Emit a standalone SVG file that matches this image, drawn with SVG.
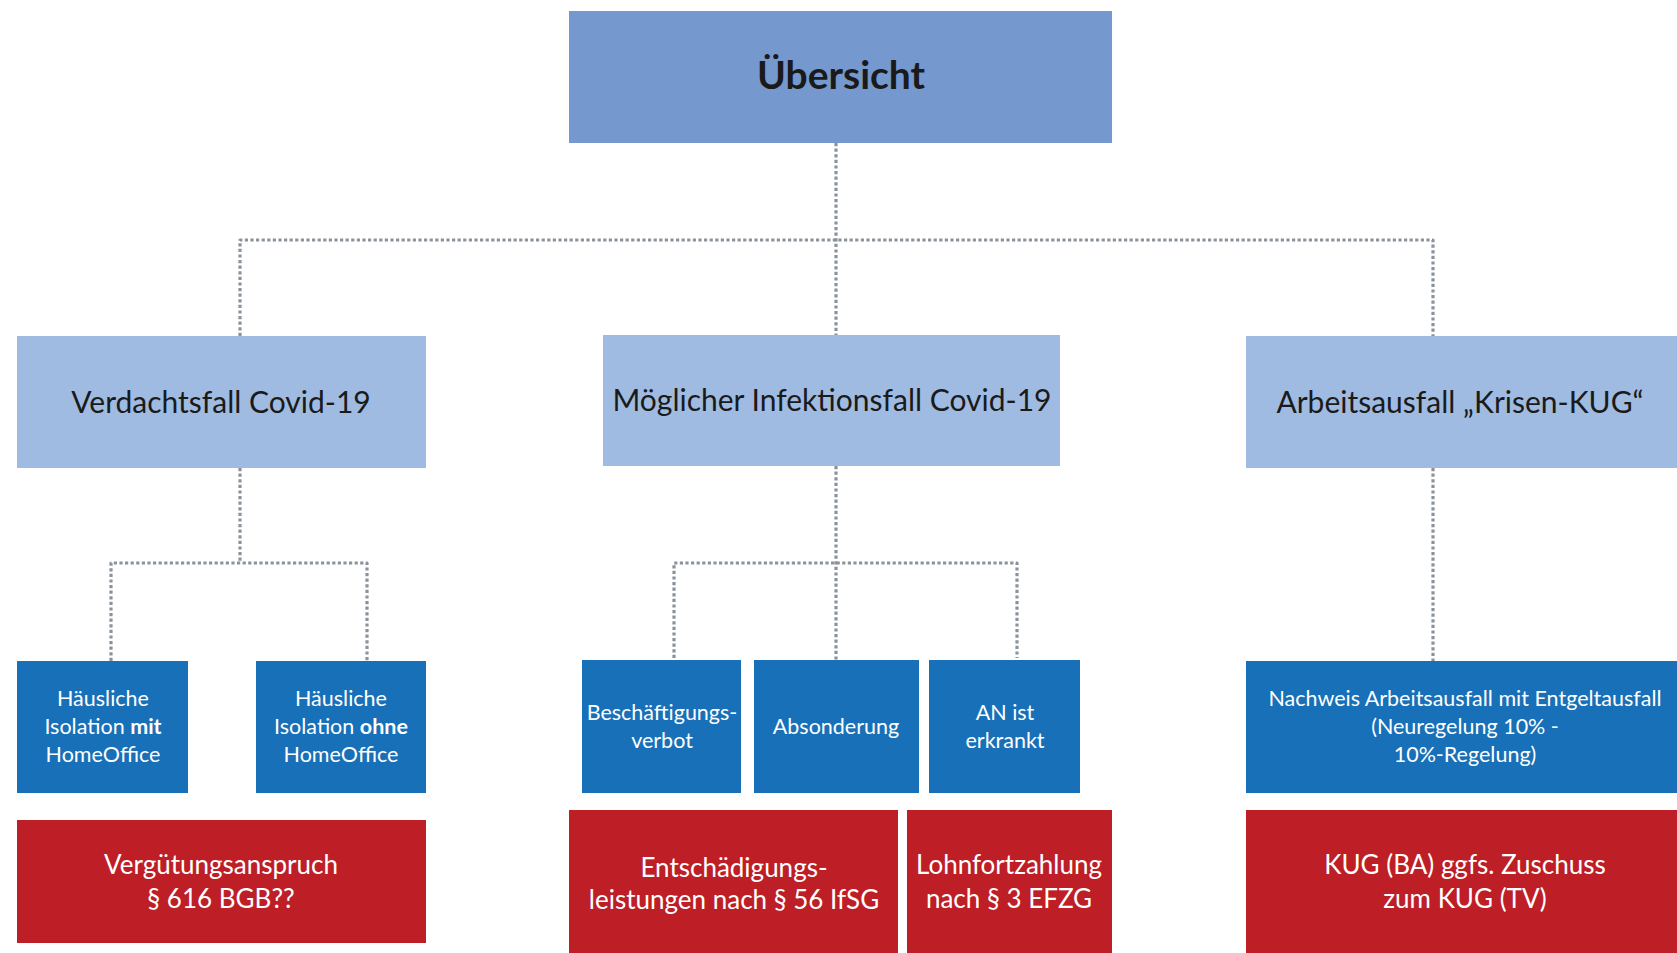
<svg xmlns="http://www.w3.org/2000/svg" width="1677" height="953" viewBox="0 0 1677 953">
<style>
.bg{fill:#ffffff}
.top{fill:#7598CE}
.l2{fill:#A0BBE1}
.l3{fill:#1770B8}
.l4{fill:#BE1E25}
.conn{fill:none;stroke:#8A939C;stroke-width:3.2;stroke-dasharray:3.2 2.4;stroke-linejoin:round}
text{font-family:Lato,"Open Sans","Liberation Sans",sans-serif;text-anchor:middle}
.tt{font-size:39px;font-weight:bold;fill:#1a1a1a}
.t2{font-size:30px;fill:#1a1a1a}
.t3{font-size:21.5px;fill:#ffffff}
.t4{font-size:26px;fill:#ffffff}
.b{font-weight:bold}
</style>
<rect class="bg" x="0" y="0" width="1677" height="953"/>
<g id="connectors">
<path class="conn" d="M836 143 V336"/>
<path class="conn" d="M240 336 V240 H1433 V336"/>
<path class="conn" d="M240 468 V563"/>
<path class="conn" d="M111 661 V563 H367 V661"/>
<path class="conn" d="M836 466 V660"/>
<path class="conn" d="M674 658 V563 H1017 V658"/>
<path class="conn" d="M1433 468 V661"/>
</g>
<g id="n-uebersicht">
<rect class="top" x="569" y="11" width="543" height="132"/>
<text class="tt" x="841" y="89">Übersicht</text>
</g>
<g id="n-verdacht">
<rect class="l2" x="17" y="336" width="409" height="132"/>
<text class="t2" x="221" y="413">Verdachtsfall Covid-19</text>
</g>
<g id="n-infektion">
<rect class="l2" x="603" y="335" width="457" height="131"/>
<text class="t2" x="832" y="411">Möglicher Infektionsfall Covid-19</text>
</g>
<g id="n-arbeitsausfall">
<rect class="l2" x="1246" y="336" width="431" height="132"/>
<text class="t2" x="1460" y="413">Arbeitsausfall „Krisen-KUG“</text>
</g>
<g id="n-iso-mit">
<rect class="l3" x="17" y="661" width="171" height="132"/>
<text class="t3" x="103" y="706">Häusliche</text>
<text class="t3" x="103" y="734">Isolation <tspan class="b">mit</tspan></text>
<text class="t3" x="103" y="762">HomeOffice</text>
</g>
<g id="n-iso-ohne">
<rect class="l3" x="256" y="661" width="170" height="132"/>
<text class="t3" x="341" y="706">Häusliche</text>
<text class="t3" x="341" y="734">Isolation <tspan class="b">ohne</tspan></text>
<text class="t3" x="341" y="762">HomeOffice</text>
</g>
<g id="n-beschaeftigung">
<rect class="l3" x="582" y="660" width="159" height="133"/>
<text class="t3" x="662" y="720">Beschäftigungs-</text>
<text class="t3" x="662" y="748">verbot</text>
</g>
<g id="n-absonderung">
<rect class="l3" x="754" y="660" width="165" height="133"/>
<text class="t3" x="836" y="734">Absonderung</text>
</g>
<g id="n-erkrankt">
<rect class="l3" x="929" y="660" width="151" height="133"/>
<text class="t3" x="1005" y="720">AN ist</text>
<text class="t3" x="1005" y="748">erkrankt</text>
</g>
<g id="n-nachweis">
<rect class="l3" x="1246" y="661" width="431" height="132"/>
<text class="t3" x="1465" y="706">Nachweis Arbeitsausfall mit Entgeltausfall</text>
<text class="t3" x="1465" y="734">(Neuregelung 10% -</text>
<text class="t3" x="1465" y="762">10%-Regelung)</text>
</g>
<g id="n-verguetung">
<rect class="l4" x="17" y="820" width="409" height="123"/>
<text class="t4" x="221" y="874">Vergütungsanspruch</text>
<text class="t4" x="221" y="908">§ 616 BGB??</text>
</g>
<g id="n-entschaedigung">
<rect class="l4" x="569" y="810" width="329" height="143"/>
<text class="t4" x="734" y="877">Entschädigungs-</text>
<text class="t4" x="734" y="909">leistungen nach § 56 IfSG</text>
</g>
<g id="n-lohnfortzahlung">
<rect class="l4" x="907" y="810" width="205" height="143"/>
<text class="t4" x="1009" y="874">Lohnfortzahlung</text>
<text class="t4" x="1009" y="908">nach § 3 EFZG</text>
</g>
<g id="n-kug">
<rect class="l4" x="1246" y="810" width="431" height="143"/>
<text class="t4" x="1465" y="874">KUG (BA) ggfs. Zuschuss</text>
<text class="t4" x="1465" y="908">zum KUG (TV)</text>
</g>
</svg>
